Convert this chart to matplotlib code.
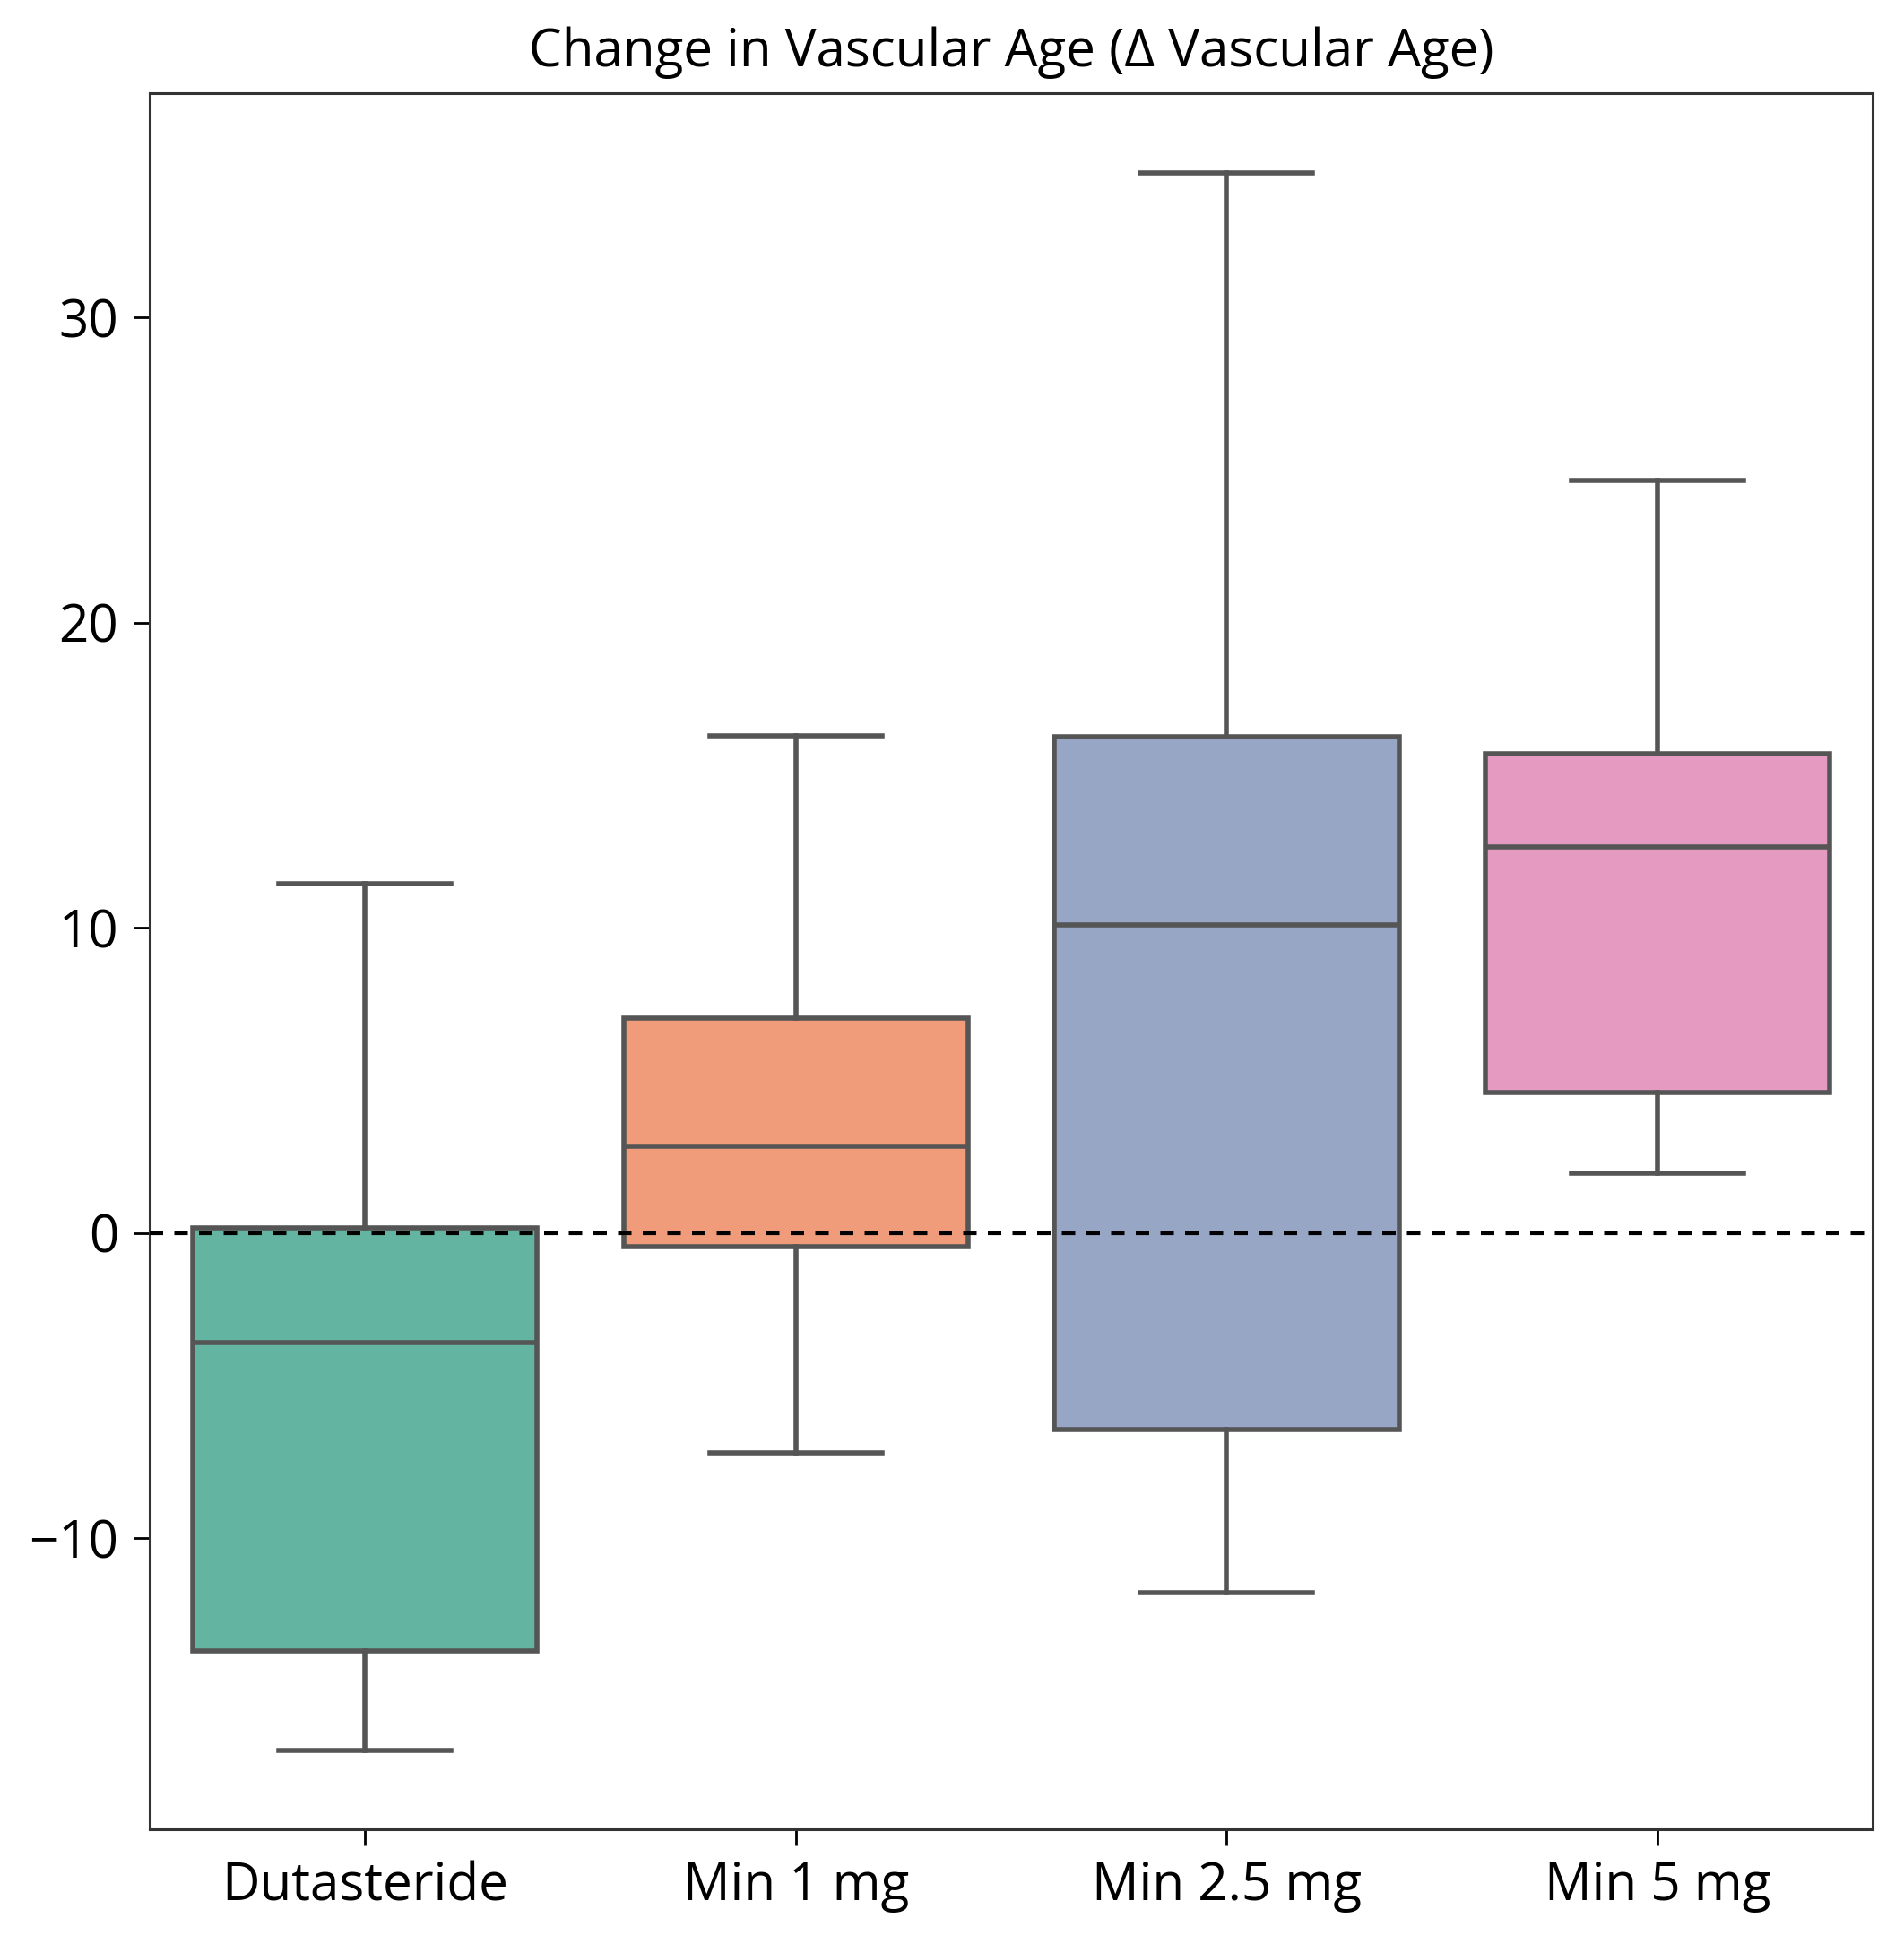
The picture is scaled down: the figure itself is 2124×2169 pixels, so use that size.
import numpy as np
import matplotlib.pyplot as plt

# box stats
groups = ['Dutasteride', 'Min 1 mg', 'Min 2.5 mg', 'Min 5 mg']
whislo = [-16.95, -7.2, -11.8, 1.95]
q1 = [-13.7, -0.45, -6.45, 4.6]
med = [-3.6, 2.85, 10.1, 12.65]
q3 = [0.15, 7.05, 16.25, 15.7]
whishi = [11.45, 16.3, 34.75, 24.65]

colors = ['#63b5a2', '#f09c7b', '#97a6c4', '#e49ac1']
edge = '#555555'

plt.rcParams['font.family'] = ['Open Sans', 'DejaVu Sans']

fig = plt.figure(figsize=(10.62, 10.845), dpi=200)
ax = fig.add_axes([0.0786, 0.059, 0.905, 0.893])

stats = []
for i in range(len(groups)):
    stats.append(dict(label=groups[i], whislo=whislo[i], q1=q1[i], med=med[i],
                      q3=q3[i], whishi=whishi[i], fliers=[]))

pos = np.arange(len(groups))
bp = ax.bxp(stats, positions=pos, widths=0.8, patch_artist=True, showfliers=False,
            capwidths=0.4,
            boxprops=dict(edgecolor=edge, linewidth=2.0),
            medianprops=dict(color=edge, linewidth=2.0),
            whiskerprops=dict(color=edge, linewidth=2.0),
            capprops=dict(color=edge, linewidth=2.0))
for patch, c in zip(bp['boxes'], colors):
    patch.set_facecolor(c)

ax.axhline(0, color='black', linestyle=(0, (3.6, 3)), linewidth=1.5, zorder=5)

ax.set_xlim(-0.5, 3.5)
ax.set_ylim(-19.55, 37.35)
ax.set_yticks([-10, 0, 10, 20, 30])
ax.set_xticks(pos)
ax.set_xticklabels(groups)
ax.tick_params(labelsize=21, length=6.5, width=1.0, pad=6)
for s in ax.spines.values():
    s.set_linewidth(1.1)
    s.set_color('#333333')

ax.set_title('Change in Vascular Age (Δ Vascular Age)', fontsize=21, pad=11)

fig.savefig('out.png', dpi=200)
